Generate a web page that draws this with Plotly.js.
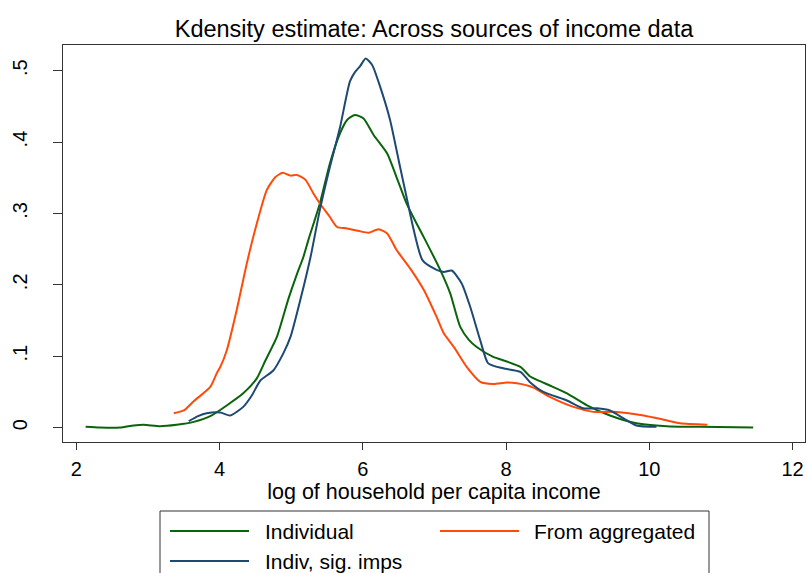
<!DOCTYPE html>
<html>
<head>
<meta charset="utf-8">
<script src="https://cdn.plot.ly/plotly-3.0.1.min.js"></script>
<style>html,body{margin:0;padding:0;background:#fff;}#chart{width:807px;height:573px;}</style>
</head>
<body>
<div id="chart"></div>
<script>
// ---- data ----
const seriesNames = ["Individual", "From aggregated", "Indiv, sig. imps"];
const seriesColors = ["#0b640b", "#ff4a0a", "#1d4a73"];

const indivX = [2.13,2.33,2.61,2.80,2.94,3.17,3.40,3.64,3.87,4.10,4.33,4.52,4.64,4.80,4.96,5.08,5.17,5.24,5.40,5.54,5.68,5.78,5.89,6.01,6.15,6.34,6.47,6.61,6.75,6.87,7.08,7.22,7.36,7.48,7.59,7.82,8.00,8.20,8.33,8.45,8.61,8.85,9.13,9.45,9.82,10.24,10.71,11.45];
const indivY = [0.001,0.000,0.000,0.003,0.004,0.002,0.004,0.008,0.016,0.031,0.048,0.069,0.094,0.127,0.180,0.215,0.239,0.263,0.314,0.370,0.412,0.431,0.438,0.433,0.410,0.384,0.351,0.314,0.286,0.263,0.221,0.188,0.141,0.123,0.113,0.099,0.093,0.085,0.072,0.066,0.059,0.048,0.031,0.017,0.006,0.002,0.001,0.000];

const aggX = [3.36,3.50,3.64,3.87,3.96,4.01,4.10,4.24,4.38,4.52,4.66,4.78,4.88,4.99,5.08,5.20,5.31,5.40,5.54,5.64,5.78,5.96,6.08,6.22,6.34,6.47,6.66,6.85,7.03,7.13,7.27,7.45,7.64,7.82,8.01,8.15,8.38,8.61,8.94,9.22,9.54,9.92,10.20,10.43,10.81];
const aggY = [0.020,0.024,0.037,0.057,0.076,0.085,0.108,0.165,0.230,0.286,0.333,0.351,0.357,0.353,0.354,0.347,0.328,0.314,0.295,0.281,0.279,0.275,0.273,0.278,0.272,0.249,0.223,0.193,0.155,0.132,0.113,0.085,0.064,0.061,0.063,0.062,0.056,0.043,0.029,0.022,0.022,0.017,0.011,0.006,0.004];

const sigX = [3.57,3.70,3.82,4.01,4.15,4.33,4.45,4.57,4.75,4.89,4.99,5.13,5.27,5.40,5.54,5.68,5.82,5.89,5.96,6.04,6.13,6.24,6.38,6.52,6.64,6.71,6.83,6.99,7.13,7.24,7.38,7.50,7.64,7.75,7.96,8.20,8.33,8.52,8.85,9.08,9.27,9.45,9.64,9.82,10.10];
const sigY = [0.009,0.016,0.020,0.021,0.017,0.029,0.045,0.066,0.080,0.104,0.127,0.180,0.239,0.305,0.365,0.420,0.485,0.498,0.506,0.517,0.508,0.478,0.431,0.365,0.309,0.277,0.235,0.223,0.218,0.220,0.202,0.169,0.122,0.090,0.083,0.078,0.064,0.050,0.038,0.027,0.027,0.024,0.013,0.003,0.001];

const xTicks = [2, 4, 6, 8, 10, 12];
const yTicks = [0, 0.1, 0.2, 0.3, 0.4, 0.5];
const yTickText = ["0", ".1", ".2", ".3", ".4", ".5"];

const titleText = "Kdensity estimate: Across sources of income data";
const xTitleText = "log of household per capita income";

// ---- layout constants ----
const W = 807, H = 573;
const M = {l: 63, r: 2, t: 45, b: 131};
const PW = W - M.l - M.r, PH = H - M.t - M.b;
const px2x = p => (p - M.l) / PW;
const py2y = p => (H - M.b - p) / PH;
const FONT = "Liberation Sans, Arial, sans-serif";

const xs = [indivX, aggX, sigX];
const ys = [indivY, aggY, sigY];
const traces = seriesNames.map((n, i) => ({
  type: "scatter", mode: "lines", name: n, x: xs[i], y: ys[i],
  line: {color: seriesColors[i], width: 2, shape: "spline", smoothing: 0.6},
  showlegend: false, hoverinfo: "skip"
}));

// custom Stata-like legend (long line samples)
const legendPos = [
  {lx: 170, tx: 263, y: 531},
  {lx: 440, tx: 532, y: 531},
  {lx: 170, tx: 263, y: 561}
];
const shapes = [{
  type: "rect", xref: "paper", yref: "paper",
  x0: px2x(160), x1: px2x(709), y0: py2y(511), y1: py2y(600),
  line: {color: "#333", width: 1}, fillcolor: "rgba(0,0,0,0)"
}];
const annotations = [];
seriesNames.forEach((n, i) => {
  const p = legendPos[i];
  shapes.push({type: "line", xref: "paper", yref: "paper",
    x0: px2x(p.lx), x1: px2x(p.lx + 79), y0: py2y(p.y), y1: py2y(p.y),
    line: {color: seriesColors[i], width: 2}});
  annotations.push({xref: "paper", yref: "paper", x: px2x(p.tx), y: py2y(p.y),
    xanchor: "left", yanchor: "middle", text: n, showarrow: false,
    font: {family: FONT, size: 21, color: "#000"}});
});

const layout = {
  width: W, height: H,
  margin: M,
  paper_bgcolor: "#fff", plot_bgcolor: "#fff",
  font: {family: FONT, color: "#000"},
  title: {text: titleText, font: {family: FONT, size: 23.5, color: "#000"},
          x: (M.l + PW / 2) / W, xanchor: "center", xref: "container",
          y: 1 - 29 / H, yanchor: "middle", yref: "container"},
  xaxis: {
    range: [1.814, 12.173], tickvals: xTicks, ticktext: xTicks.map(String),
    showgrid: false, zeroline: false, showline: true, mirror: true,
    linecolor: "#333", linewidth: 1, ticks: "outside", ticklen: 7,
    tickcolor: "#333", tickwidth: 1, ticklabelstandoff: 2,
    tickfont: {family: FONT, size: 20, color: "#000"},
    title: {text: xTitleText, font: {family: FONT, size: 21.5, color: "#000"}, standoff: 2}
  },
  yaxis: {
    range: [-0.0202, 0.536], tickvals: yTicks, ticktext: yTickText,
    tickangle: -90,
    showgrid: false, zeroline: false, showline: true, mirror: true,
    linecolor: "#333", linewidth: 1, ticks: "outside", ticklen: 9,
    tickcolor: "#333", tickwidth: 1, ticklabelstandoff: 18,
    tickfont: {family: FONT, size: 20, color: "#000"}
  },
  shapes: shapes,
  annotations: annotations,
  showlegend: false
};

Plotly.newPlot("chart", traces, layout, {displayModeBar: false, staticPlot: true});
</script>
</body>
</html>
